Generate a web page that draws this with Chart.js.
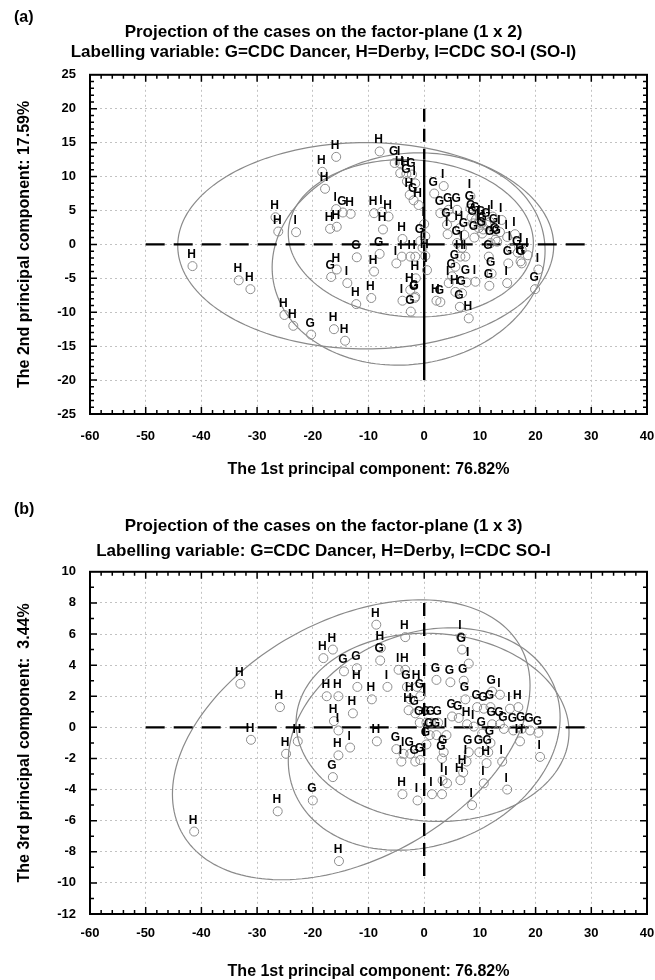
<!doctype html>
<html>

<head>
	<title>Projection of the cases on the factor-plane</title>
	<script src="https://cdn.jsdelivr.net/npm/chart.js@4.4.1/dist/chart.umd.min.js"></script>
	<style>
		html, body { margin: 0; padding: 0; background: #fff; }
		canvas { display: block; }
	</style>
</head>

<body>
	<canvas id="plane-12" width="655" height="490"></canvas>
	<canvas id="plane-13" width="655" height="490"></canvas>

	<script>
		// ---- (a) factor-plane 1 x 2 ----
		// G = CDC Dancer
		const dancerA = [[-20.3,-13.3],[-14.6,4.7],[-12.1,-1.9],[-16.7,-4.8],[-8.0,-1.4],[-5.3,12.0],[-2.2,10.3],[-3.1,9.3],
			[-1.9,6.5],[1.8,7.5],[-0.7,0.5],[-1.7,-7.9],[-2.4,-9.9],[-1.6,-7.7],[2.9,-8.5],[2.9,4.6],[4.4,5.1],[5.9,5.1],
			[8.3,5.3],[8.5,4.0],[9.3,3.7],[4.1,2.9],[8.8,3.1],[10.3,3.1],[11.2,2.9],[10.6,2.2],[12.6,2.0],[10.4,1.6],
			[9.0,1.0],[7.2,1.4],[5.9,0.2],[12.8,0.7],[11.9,0.2],[13.1,0.4],[11.6,-1.8],[16.8,-1.2],[15.1,-2.8],[17.5,-2.8],
			[12.1,-4.3],[11.7,-6.1],[5.6,-3.3],[5.0,-4.7],[7.6,-5.6],[6.8,-7.2],[6.4,-9.2],[19.9,-6.6]];
		// H = Derby
		const derbyA = [[-41.6,-3.2],[-33.3,-5.3],[-31.2,-6.6],[-26.7,4.0],[-26.2,1.9],[-25.1,-10.4],[-23.5,-12.0],[-16.2,-12.5],
			[-14.2,-14.2],[-18.3,10.7],[-15.8,12.9],[-17.8,8.2],[-13.2,4.5],[-16.9,2.3],[-15.7,2.6],[-15.7,-3.7],[-12.2,-8.8],
			[-8.0,13.7],[-4.3,10.5],[-3.2,10.4],[-2.6,7.3],[-1.0,5.8],[-9.0,4.6],[-6.4,4.1],[-7.4,2.2],[-3.9,0.8],[-9.0,-4.0],
			[-9.5,-7.9],[-1.5,-5.0],[-2.5,-6.7],[0.2,-1.7],[2.2,-8.3],[5.6,-7.0],[6.5,-1.8],[6.4,2.4],[8.0,-10.9],[17.3,-2.5]];
		// I = CDC SO-I
		const soiA = [[-23.0,1.8],[-15.8,5.2],[-13.8,-5.7],[-7.6,4.8],[-4.4,12.0],[-1.6,9.0],[3.5,8.6],[8.3,7.1],[0.0,3.0],
			[0.2,1.2],[-0.3,-0.5],[-5.0,-2.8],[-4.0,-1.8],[-2.5,-1.8],[-1.6,-1.8],[0.5,-3.8],[-3.9,-8.3],[4.4,-5.7],[9.2,-5.5],
			[7.4,-1.8],[6.8,-0.5],[4.2,1.5],[5.0,4.0],[10.0,3.3],[9.8,2.4],[11.8,3.3],[12.3,4.1],[13.9,3.6],[13.6,1.8],
			[14.9,1.1],[16.3,1.5],[15.5,-0.6],[17.5,-0.8],[18.6,-1.6],[20.5,-3.7],[14.9,-5.7]];
		// ellipses: centre x, centre y, half width, half height, y shift at the right end
		const ellipsesA = [[-10.5,-0.2,33.75,15.2,0],[-2.8,-2.15,24.5,15.65,1.25],[-2.4,0.9,22.0,11.6,-0.7]];
		const hGuideA = [-50, 30];
		const vGuideA = [20, -20];

		// ---- (b) factor-plane 1 x 3 ----
		const dancerB = [[-14.4,3.6],[-12.1,3.8],[-16.4,-3.2],[-20.0,-4.7],[-7.9,4.3],[6.8,5.0],[2.2,3.05],[4.7,2.9],[7.1,3.0],
			[-3.1,2.6],[-0.7,2.0],[-1.6,0.9],[12.2,2.3],[7.4,1.8],[9.5,1.3],[10.7,1.2],[11.9,1.3],[5.0,0.7],[6.2,0.6],
			[-0.8,0.3],[0.4,0.3],[1.3,0.3],[2.5,0.3],[12.2,0.2],[13.6,0.2],[14.3,-0.1],[16.0,-0.2],[17.5,-0.1],[19.0,-0.2],
			[20.5,-0.35],[10.4,-0.4],[0.4,-1.1],[1.0,-0.5],[2.2,-0.5],[3.5,-1.6],[3.2,-2.0],[8.0,-1.6],[9.9,-1.6],[11.5,-1.6],
			[11.9,-1.0],[-5.0,-1.4],[-2.5,-1.7],[-1.6,-2.2],[-0.7,-2.1]];
		const derbyB = [[-41.3,-6.7],[-33.0,2.8],[-31.1,-0.8],[-25.9,1.3],[-22.7,-0.9],[-24.8,-1.7],[-26.3,-5.4],[-15.3,-8.6],
			[-18.1,4.45],[-16.4,5.0],[-17.5,2.0],[-15.4,2.0],[-12.0,2.6],[-16.2,0.4],[-12.8,0.9],[-15.4,-1.8],[-8.6,6.6],
			[-3.4,5.8],[-7.8,5.1],[-3.4,3.7],[-9.4,1.8],[-2.5,1.8],[-2.8,1.1],[-1.3,2.6],[-8.5,-0.9],[-3.9,-4.3],[7.7,0.2],
			[16.9,1.3],[17.2,-0.9],[11.2,-2.3],[7.0,-2.9],[6.5,-3.4]];
		const soiB = [[-13.3,-1.3],[-15.4,-0.2],[-6.6,2.6],[-4.6,3.7],[6.6,5.8],[8.0,4.1],[13.6,2.1],[15.4,1.2],[8.9,0.05],
			[4.0,-0.5],[-3.7,-1.7],[-4.1,-2.2],[7.6,-2.2],[14.0,-2.2],[20.8,-1.9],[3.3,-3.4],[4.1,-3.6],[10.7,-3.6],[14.9,-4.0],
			[8.6,-5.0],[-1.2,-4.7],[1.4,-4.3],[3.2,-4.3]];
		const ellipsesB = [[-13.1,-0.8,32.1,9.0,3.5],[0.0,-0.75,24.4,7.15,1.4],[1.5,0.0,24.5,6.05,-0.3]];
		const hGuideB = [-50, 30];
		const vGuideB = [8, -10];

		const FONT = "'Liberation Sans', Arial, Helvetica, sans-serif";

		function seg(ctx, x1, y1, x2, y2) {
			ctx.beginPath();
			ctx.moveTo(x1, y1);
			ctx.lineTo(x2, y2);
			ctx.stroke();
		}

		const factorPlane = {
			id: 'factorPlane',
			beforeDatasetsDraw(chart, args, opts) {
				const {ctx, scales: {x, y}} = chart;
				ctx.save();
				ctx.strokeStyle = '#8a8a8a';
				ctx.lineWidth = 1.2;
				opts.ellipses.forEach(([cx, cy, w, h, d]) => {
					const px = x.getPixelForValue(cx), py = y.getPixelForValue(cy);
					const ux = x.getPixelForValue(cx + w) - px;
					const uy = y.getPixelForValue(cy + d) - py;
					const vy = y.getPixelForValue(cy + Math.sqrt(h * h - d * d)) - py;
					ctx.beginPath();
					for (let i = 0; i <= 180; i++) {
						const t = i / 180 * Math.PI * 2;
						const ex = px + ux * Math.cos(t);
						const ey = py + uy * Math.cos(t) + vy * Math.sin(t);
						if (i === 0) ctx.moveTo(ex, ey); else ctx.lineTo(ex, ey);
					}
					ctx.stroke();
				});

				// dashed cross through the origin
				ctx.strokeStyle = '#000';
				ctx.lineWidth = 2.4;
				const x0 = x.getPixelForValue(0), y0 = y.getPixelForValue(0);
				ctx.setLineDash([19, 9]);
				seg(ctx, x.getPixelForValue(opts.hGuide[0]), y0, x.getPixelForValue(opts.hGuide[1]), y0);
				const [top, bottom] = opts.vGuide;
				const split = opts.vSolidBelow ?? bottom;
				ctx.setLineDash([13, 7]);
				seg(ctx, x0, y.getPixelForValue(top), x0, y.getPixelForValue(split));
				if (split !== bottom) {
					ctx.setLineDash([]);
					seg(ctx, x0, y.getPixelForValue(split), x0, y.getPixelForValue(bottom));
				}
				ctx.restore();
			},
			afterDatasetsDraw(chart) {
				const ctx = chart.ctx;
				ctx.save();
				ctx.fillStyle = '#000';
				ctx.font = 'bold 12px ' + FONT;
				ctx.textAlign = 'center';
				ctx.textBaseline = 'alphabetic';
				chart.data.datasets.forEach((ds, i) => {
					chart.getDatasetMeta(i).data.forEach(pt => ctx.fillText(ds.letter, pt.x - 1, pt.y - 8));
				});
				ctx.restore();
			},
			afterDraw(chart, args, opts) {
				const {ctx, chartArea: a, scales: {x, y}} = chart;
				ctx.save();
				ctx.strokeStyle = '#000';
				ctx.lineWidth = 2;
				ctx.strokeRect(a.left, a.top, a.right - a.left, a.bottom - a.top);

				// inward tick marks on all four sides
				ctx.lineWidth = 1.5;
				ctx.beginPath();
				const nx = Math.round((x.max - x.min) / opts.minorX);
				for (let i = 1; i < nx; i++) {
					const v = x.min + i * opts.minorX;
					const len = v % x.options.ticks.stepSize === 0 ? 7 : 4;
					const p = x.getPixelForValue(v);
					ctx.moveTo(p, a.top); ctx.lineTo(p, a.top + len);
					ctx.moveTo(p, a.bottom); ctx.lineTo(p, a.bottom - len);
				}
				const ny = Math.round((y.max - y.min) / opts.minorY);
				for (let i = 1; i < ny; i++) {
					const v = y.min + i * opts.minorY;
					const len = v % y.options.ticks.stepSize === 0 ? 7 : 4;
					const p = y.getPixelForValue(v);
					ctx.moveTo(a.left, p); ctx.lineTo(a.left + len, p);
					ctx.moveTo(a.right, p); ctx.lineTo(a.right - len, p);
				}
				ctx.stroke();

				ctx.fillStyle = '#000';
				ctx.font = 'bold 16px ' + FONT;
				ctx.textBaseline = 'middle';
				ctx.fillText(opts.tag, 14, opts.tagY);
				ctx.restore();
			}
		};

		function series(points, letter) {
			return {
				letter: letter,
				data: points.map(([x, y]) => ({x, y})),
				pointRadius: 4.5,
				pointHoverRadius: 4.5,
				pointBorderWidth: 1,
				pointBorderColor: '#8c8c8c',
				pointBackgroundColor: 'rgba(0,0,0,0)'
			};
		}

		function drawPlane(id, p) {
			const ctx2d = document.getElementById(id).getContext('2d');
			return new Chart(ctx2d, {
				type: 'scatter',
				data: {
					datasets: [series(p.g, 'G'), series(p.h, 'H'), series(p.i, 'I')]
				},
				plugins: [factorPlane],
				options: {
					responsive: false,
					animation: false,
					events: [],
					layout: {padding: {top: 0, left: 0, right: 8, bottom: 0}},
					plugins: {
						legend: {display: false},
						tooltip: {enabled: false},
						title: {
							display: true,
							text: p.title,
							color: '#000',
							font: {family: FONT, size: 17, weight: 'bold'},
							padding: p.titlePad
						},
						subtitle: {
							display: true,
							text: p.subtitle,
							color: '#000',
							font: {family: FONT, size: 17, weight: 'bold'},
							padding: p.subPad
						},
						factorPlane: {
							ellipses: p.ellipses,
							hGuide: p.hGuide,
							vGuide: p.vGuide,
							vSolidBelow: p.vSolidBelow,
							minorX: 2,
							minorY: 1,
							tag: p.tag,
							tagY: p.tagY
						}
					},
					scales: {
						x: {
							type: 'linear',
							min: -60,
							max: 40,
							ticks: {stepSize: 10, color: '#000', padding: p.xTickPad, font: {family: FONT, size: 13, weight: 'bold'}},
							grid: {color: '#c2c2c2', drawTicks: false},
							border: {display: false, dash: [2, 3]},
							title: {
								display: true,
								text: 'The 1st principal component: 76.82%',
								color: '#000',
								font: {family: FONT, size: 16, weight: 'bold', lineHeight: 1},
								padding: {top: 0, bottom: p.xTitlePad}
							},
							afterFit(scale) {
								scale.height = p.xHeight;
								scale.paddingRight = 0;
							}
						},
						y: {
							type: 'linear',
							min: p.yMin,
							max: p.yMax,
							ticks: {stepSize: p.yStep, color: '#000', padding: 14, font: {family: FONT, size: 13, weight: 'bold'}},
							grid: {color: '#c2c2c2', drawTicks: false},
							border: {display: false, dash: [2, 3]},
							title: {
								display: true,
								text: p.yTitle,
								color: '#000',
								font: {family: FONT, size: 16, weight: 'bold', lineHeight: 1},
								padding: {top: 17, bottom: 0}
							},
							afterFit(scale) {
								scale.width = 90;
							}
						}
					}
				}
			});
		}

		drawPlane('plane-12', {
			g: dancerA, h: derbyA, i: soiA,
			ellipses: ellipsesA, hGuide: hGuideA, vGuide: vGuideA, vSolidBelow: 12.5,
			title: 'Projection of the cases on the factor-plane (1 x 2)',
			subtitle: 'Labelling variable: G=CDC Dancer, H=Derby, I=CDC SO-I (SO-I)',
			yTitle: 'The 2nd principal component: 17.59%',
			yMin: -25, yMax: 25, yStep: 5,
			tag: '(a)', tagY: 18,
			titlePad: {top: 22, bottom: 0}, subPad: {top: 0, bottom: 12},
			xHeight: 76, xTickPad: 15, xTitlePad: 12
		});

		drawPlane('plane-13', {
			g: dancerB, h: derbyB, i: soiB,
			ellipses: ellipsesB, hGuide: hGuideB, vGuide: vGuideB, vSolidBelow: null,
			title: 'Projection of the cases on the factor-plane (1 x 3)',
			subtitle: 'Labelling variable: G=CDC Dancer, H=Derby, I=CDC SO-I',
			yTitle: 'The 3rd principal component:  3.44%',
			yMin: -12, yMax: 10, yStep: 2,
			tag: '(b)', tagY: 20,
			titlePad: {top: 26, bottom: 0}, subPad: {top: 5, bottom: 10},
			xHeight: 66, xTickPad: 12, xTitlePad: 0
		});
	</script>
</body>

</html>
